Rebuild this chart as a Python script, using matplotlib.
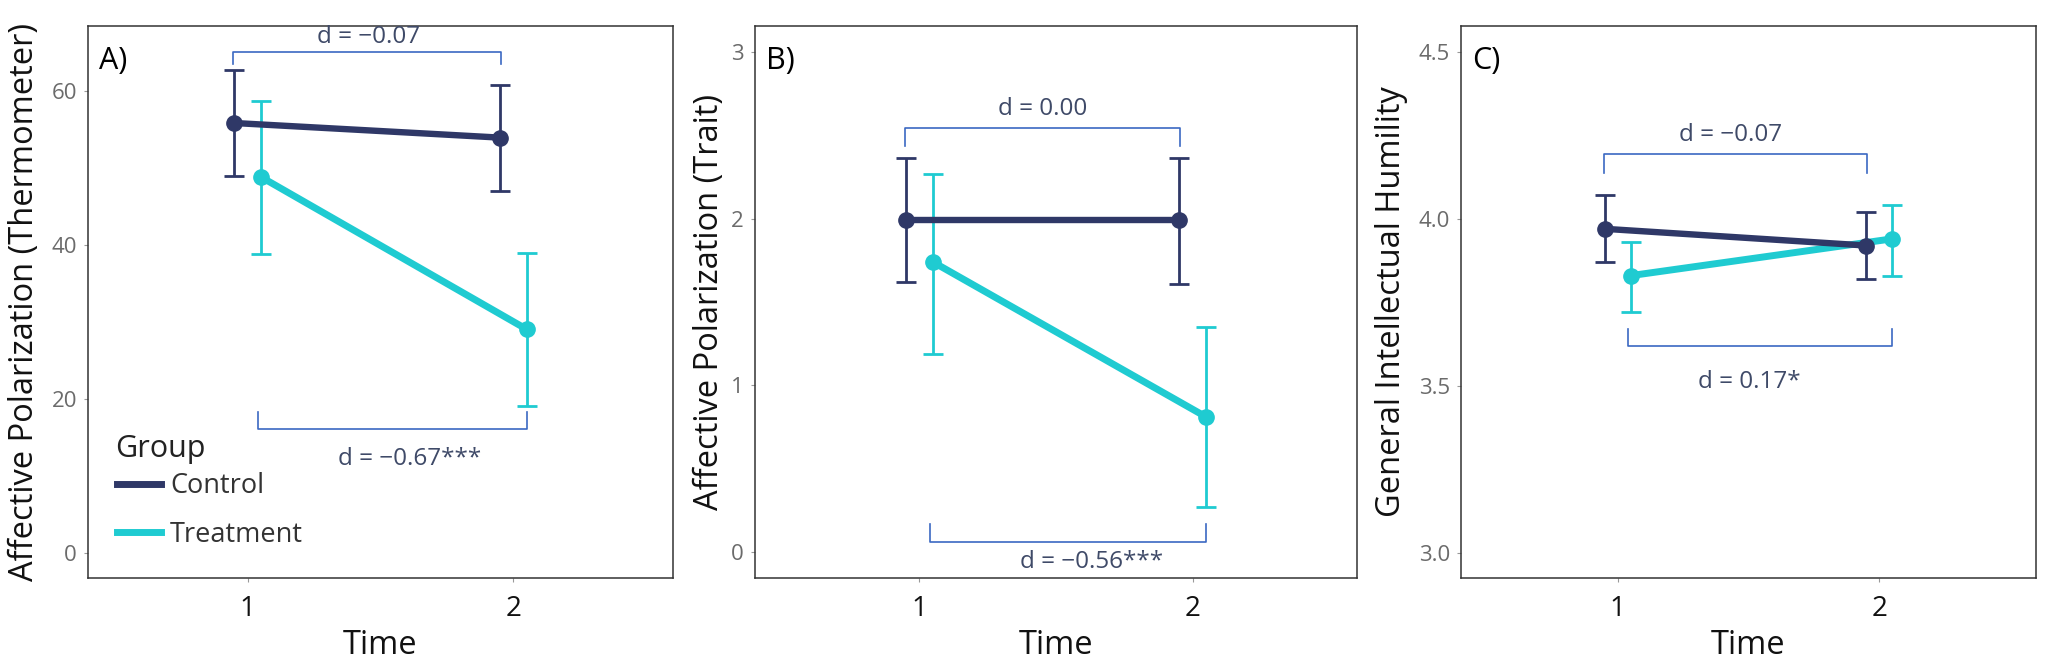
import matplotlib
matplotlib.use('Agg')
import matplotlib.pyplot as plt
from matplotlib.lines import Line2D
import numpy as np

plt.rcParams['font.family'] = ['Open Sans', 'DejaVu Sans']

# data
time = [1, 2]
groups = ['Control', 'Treatment']

ctrl_a = [55.8, 53.9]
ctrl_a_lo = [48.9, 47.0]
ctrl_a_hi = [62.7, 60.7]
trt_a = [48.8, 29.0]
trt_a_lo = [38.8, 19.1]
trt_a_hi = [58.7, 38.9]

ctrl_b = [1.99, 1.99]
ctrl_b_lo = [1.62, 1.61]
ctrl_b_hi = [2.36, 2.36]
trt_b = [1.74, 0.81]
trt_b_lo = [1.19, 0.27]
trt_b_hi = [2.27, 1.35]

ctrl_c = [3.97, 3.92]
ctrl_c_lo = [3.87, 3.82]
ctrl_c_hi = [4.07, 4.02]
trt_c = [3.83, 3.94]
trt_c_lo = [3.72, 3.83]
trt_c_hi = [3.93, 4.04]

d_labels_a = ['d = \u22120.07', 'd = \u22120.67***']
d_labels_b = ['d = 0.00', 'd = \u22120.56***']
d_labels_c = ['d = \u22120.07', 'd = 0.17*']

ylabels = ['Affective Polarization (Thermometer)',
           'Affective Polarization (Trait)',
           'General Intellectual Humility']
panel_tags = ['A)', 'B)', 'C)']
yticks_all = [[0, 20, 40, 60], [0, 1, 2, 3], [3.0, 3.5, 4.0, 4.5]]
ylims = [(-3.3, 68.4), (-0.154, 3.154), (2.925, 4.577)]

# brackets: (y line, y tip) for top (control) and bottom (treatment)
brackets = [
    [(65.0, 63.5), (16.0, 18.3)],
    [(2.543, 2.435), (0.062, 0.167)],
    [(4.194, 4.138), (3.619, 3.670)],
]
label_pos = [
    [(1.454, 67.0), (1.61, 12.2)],
    [(1.452, 2.654), (1.63, -0.058)],
    [(1.433, 4.25), (1.504, 3.512)],
]

navy = '#2f3867'
cyan = '#1fcbd1'
br_col = '#3b68c2'
txt_col = '#3f4a68'

W, H = 2055, 672
fig = plt.figure(figsize=(W / 100, H / 100), dpi=100)
boxes = [(88, 673), (755, 1357), (1461, 2036)]
top, bottom = 26, 578
axes = []
for (l, r) in boxes:
    axes.append(fig.add_axes([l / W, (H - bottom) / H, (r - l) / W, (bottom - top) / H]))

series = [
    (ctrl_a, ctrl_a_lo, ctrl_a_hi, trt_a, trt_a_lo, trt_a_hi),
    (ctrl_b, ctrl_b_lo, ctrl_b_hi, trt_b, trt_b_lo, trt_b_hi),
    (ctrl_c, ctrl_c_lo, ctrl_c_hi, trt_c, trt_c_lo, trt_c_hi),
]
d_labels = [d_labels_a, d_labels_b, d_labels_c]
ylab_x = [-0.108, -0.0756, -0.1205]

dodge = 0.05
x = np.array(time, dtype=float)
for i, ax in enumerate(axes):
    c, clo, chi, t, tlo, thi = [np.array(v) for v in series[i]]
    xc = x - dodge
    xt = x + dodge
    ax.errorbar(xt, t, yerr=[t - tlo, thi - t], fmt='none', ecolor=cyan,
                elinewidth=2.0, capsize=7.4, capthick=2.0, zorder=2)
    ax.plot(xt, t, color=cyan, lw=5, marker='o', ms=11,
            solid_capstyle='round', label=groups[1], zorder=3)
    ax.errorbar(xc, c, yerr=[c - clo, chi - c], fmt='none', ecolor=navy,
                elinewidth=2.0, capsize=7.4, capthick=2.0, zorder=4)
    ax.plot(xc, c, color=navy, lw=4.6, marker='o', ms=11,
            solid_capstyle='round', label=groups[0], zorder=5)

    # comparison brackets
    (y1, tip1), (y2, tip2) = brackets[i]
    ax.plot([0.947, 0.947, 1.953, 1.953], [tip1, y1, y1, tip1],
            color=br_col, lw=1.2, zorder=1)
    ax.plot([1.04, 1.04, 2.05, 2.05], [tip2, y2, y2, tip2],
            color=br_col, lw=1.2, zorder=1)
    for (px, py), s in zip(label_pos[i], d_labels[i]):
        ax.text(px, py, s, ha='center', va='center', fontsize=17.5, color=txt_col)

    ax.set_xlim(0.4, 2.6)
    ax.set_ylim(*ylims[i])
    ax.set_xticks(time)
    ax.set_xticklabels([str(v) for v in time])
    ax.set_yticks(yticks_all[i])
    if i == 2:
        ax.set_yticklabels(['%.1f' % v for v in yticks_all[i]])
    ax.tick_params(axis='x', length=3, width=0.8, color='#999999',
                   labelsize=20, labelcolor='#111111', pad=9)
    ax.tick_params(axis='y', length=3, width=0.8, color='#999999',
                   labelsize=16, labelcolor='#6b6b6b', pad=5)
    for sp in ax.spines.values():
        sp.set_color('#333333')
        sp.set_linewidth(1.1)

    ax.set_xlabel('Time', fontsize=23.5, color='#111111')
    ax.xaxis.set_label_coords(0.5, -0.1214)
    ax.xaxis.label.set_verticalalignment('center')
    ax.set_ylabel(ylabels[i], fontsize=23.5, color='#111111')
    ax.yaxis.set_label_coords(ylab_x[i], 0.5)
    ax.yaxis.label.set_verticalalignment('center')

    ax.text(0.019, 0.937, panel_tags[i], transform=ax.transAxes,
            fontsize=22, color='#000000', ha='left', va='center')

# legend in panel A
ax = axes[0]
ax.text(0.046, 0.234, 'Group', transform=ax.transAxes, fontsize=22,
        color='#222222', ha='left', va='center')
leg_handles = [Line2D([], [], color=navy, lw=5), Line2D([], [], color=cyan, lw=5)]
leg = ax.legend(leg_handles, groups, loc='center left',
                bbox_to_anchor=(0.05, 0.122), frameon=False, fontsize=19.5,
                handlelength=1.6, handletextpad=0.35,
                labelspacing=0.75, borderpad=0, borderaxespad=0)
for t in leg.get_texts():
    t.set_color('#333333')

fig.savefig('out.png', dpi=100)
